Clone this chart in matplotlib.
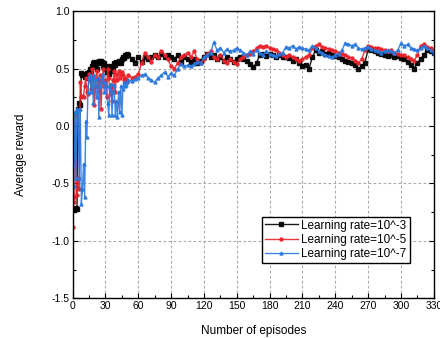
import numpy as np
import matplotlib
matplotlib.use("Agg")
import matplotlib.pyplot as plt
from matplotlib.ticker import MultipleLocator

plt.rcParams['font.family'] = ['Liberation Sans', 'DejaVu Sans']

# episodes: every episode up to 50, then every 3rd
episodes = list(range(0, 51)) + list(range(51, 331, 3))

lr3 = [-0.72, -0.73, -0.72, -0.71, -0.72, 0.15, 0.20, 0.18, 0.46, 0.44,
       0.45, 0.43, 0.44, 0.46, 0.42, 0.47, 0.50, 0.48, 0.52, 0.55,
       0.56, 0.54, 0.50, 0.56, 0.57, 0.55, 0.57, 0.56, 0.52, 0.55,
       0.50, 0.47, 0.52, 0.45, 0.50, 0.48, 0.52, 0.50, 0.55, 0.53,
       0.56, 0.55, 0.57, 0.56, 0.55, 0.58, 0.60, 0.59, 0.62, 0.61,
       0.63,
       0.62, 0.58, 0.55, 0.60, 0.56, 0.60, 0.58, 0.60, 0.62, 0.60,
       0.63, 0.60, 0.62, 0.60, 0.58, 0.62, 0.56, 0.60, 0.58, 0.56,
       0.58, 0.55, 0.57, 0.60, 0.63, 0.60, 0.62, 0.58, 0.60, 0.57,
       0.60, 0.58, 0.56, 0.58, 0.60, 0.58, 0.57, 0.54, 0.51, 0.55,
       0.62, 0.63, 0.61, 0.63, 0.62, 0.60, 0.62, 0.60, 0.60, 0.59,
       0.57, 0.58, 0.55, 0.52, 0.53, 0.50, 0.60, 0.66, 0.64, 0.65,
       0.63, 0.64, 0.62, 0.61, 0.60, 0.58, 0.57, 0.56, 0.55, 0.53,
       0.50, 0.52, 0.55, 0.67, 0.66, 0.65, 0.64, 0.63, 0.62, 0.61,
       0.62, 0.60, 0.61, 0.59, 0.58, 0.56, 0.53, 0.50, 0.55, 0.58,
       0.62, 0.66, 0.65, 0.64]

lr5 = [-0.88, -0.66, -0.62, 0.10, -0.60, -0.45, -0.55, 0.38, 0.25, 0.26,
       0.25, 0.35, 0.42, 0.30, 0.28, 0.45, 0.40, 0.32, 0.50, 0.42,
       0.18, 0.35, 0.48, 0.40, 0.30, 0.44, 0.15, 0.38, 0.50, 0.35,
       0.40, 0.25, 0.50, 0.42, 0.28, 0.35, 0.22, 0.40, 0.48, 0.30,
       0.45, 0.40, 0.48, 0.42, 0.45, 0.47, 0.44, 0.40, 0.42, 0.40,
       0.38,
       0.44, 0.42, 0.43, 0.45, 0.55, 0.64, 0.60, 0.56, 0.62, 0.60,
       0.65, 0.62, 0.58, 0.52, 0.50, 0.55, 0.60, 0.62, 0.64, 0.60,
       0.65, 0.58, 0.55, 0.58, 0.63, 0.65, 0.60, 0.58, 0.62, 0.57,
       0.55, 0.58, 0.56, 0.54, 0.58, 0.60, 0.62, 0.63, 0.65, 0.68,
       0.70, 0.69, 0.70, 0.68, 0.67, 0.66, 0.64, 0.62, 0.60, 0.62,
       0.60, 0.58, 0.57, 0.58, 0.60, 0.62, 0.68, 0.70, 0.71, 0.69,
       0.68, 0.67, 0.66, 0.65, 0.64, 0.63, 0.62, 0.60, 0.59, 0.57,
       0.55, 0.58, 0.66, 0.70, 0.69, 0.68, 0.68, 0.67, 0.66, 0.65,
       0.66, 0.64, 0.63, 0.62, 0.62, 0.60, 0.58, 0.57, 0.62, 0.70,
       0.71, 0.69, 0.68, 0.65]

lr7 = [-0.30, -0.52, 0.12, -0.45, 0.15, 0.14, -0.45, 0.15, -0.68, -0.55,
       -0.33, -0.62, 0.04, -0.10, 0.30, 0.42, 0.44, 0.30, 0.42, 0.20,
       0.44, 0.40, 0.25, 0.42, 0.08, 0.35, 0.38, 0.42, 0.45, 0.30,
       0.38, 0.35, 0.20, 0.10, 0.32, 0.37, 0.10, 0.30, 0.36, 0.10,
       0.22, 0.08, 0.30, 0.12, 0.35, 0.10, 0.32, 0.38, 0.35, 0.36,
       0.38,
       0.40, 0.39, 0.41, 0.42, 0.44, 0.45, 0.42, 0.40, 0.38, 0.42,
       0.44, 0.47, 0.43, 0.46, 0.44, 0.50, 0.54, 0.52, 0.53, 0.52,
       0.54, 0.56, 0.55, 0.60, 0.62, 0.64, 0.73, 0.66, 0.68, 0.64,
       0.67, 0.65, 0.66, 0.68, 0.66, 0.64, 0.62, 0.65, 0.63, 0.66,
       0.64, 0.62, 0.65, 0.63, 0.62, 0.61, 0.63, 0.64, 0.69, 0.68,
       0.70, 0.67, 0.69, 0.68, 0.67, 0.66, 0.70, 0.68, 0.65, 0.64,
       0.62, 0.61, 0.60, 0.62, 0.63, 0.66, 0.72, 0.71, 0.70, 0.71,
       0.68, 0.67, 0.68, 0.69, 0.67, 0.66, 0.65, 0.64, 0.65, 0.66,
       0.65, 0.64, 0.66, 0.72, 0.70, 0.71, 0.68, 0.67, 0.66, 0.68,
       0.70, 0.68, 0.66, 0.64]

labels = ["Learning rate=10^-3", "Learning rate=10^-5", "Learning rate=10^-7"]
colors = ["#000000", "#e8222a", "#2a78de"]
markers = ["s", "o", "^"]

fig = plt.figure(figsize=(4.4, 3.38), dpi=100)
ax = fig.add_axes([0.165, 0.1175, 0.821, 0.8495])

for ys, lab, c, m in zip([lr3, lr5, lr7], labels, colors, markers):
    ax.plot(episodes, ys, color=c, marker=m, markersize=2.2, linewidth=1.0,
            label=lab, alpha=0.9)

ax.set_xlim(0, 330)
ax.set_ylim(-1.5, 1.0)
ax.xaxis.set_major_locator(MultipleLocator(30))
ax.xaxis.set_minor_locator(MultipleLocator(15))
ax.yaxis.set_major_locator(MultipleLocator(0.5))
ax.yaxis.set_minor_locator(MultipleLocator(0.25))
ax.set_yticklabels([f"{v:.1f}" for v in ax.get_yticks()])
ax.tick_params(which='both', direction='in', right=True, top=False, labelsize=7.5, pad=2)
ax.tick_params(which='major', length=3.5, width=0.8)
ax.tick_params(which='minor', length=2, width=0.8)
ax.grid(True, which='major', linestyle=(0, (2.5, 2)), color='#aaaaaa', linewidth=0.8)
for s in ax.spines.values():
    s.set_linewidth(1.0)

ax.set_xlabel("Number of episodes", fontsize=8.5, labelpad=10)
ax.set_ylabel("Average reward", fontsize=8.5, labelpad=18)

leg = ax.legend(loc='lower right', bbox_to_anchor=(0.933, 0.122), fontsize=8.5,
                fancybox=False, framealpha=1, edgecolor='black', handlelength=2.8,
                borderpad=0.25, labelspacing=0.2, handletextpad=0.3, borderaxespad=0)
leg.get_frame().set_linewidth(1.0)

fig.savefig("out.png", dpi=100)
